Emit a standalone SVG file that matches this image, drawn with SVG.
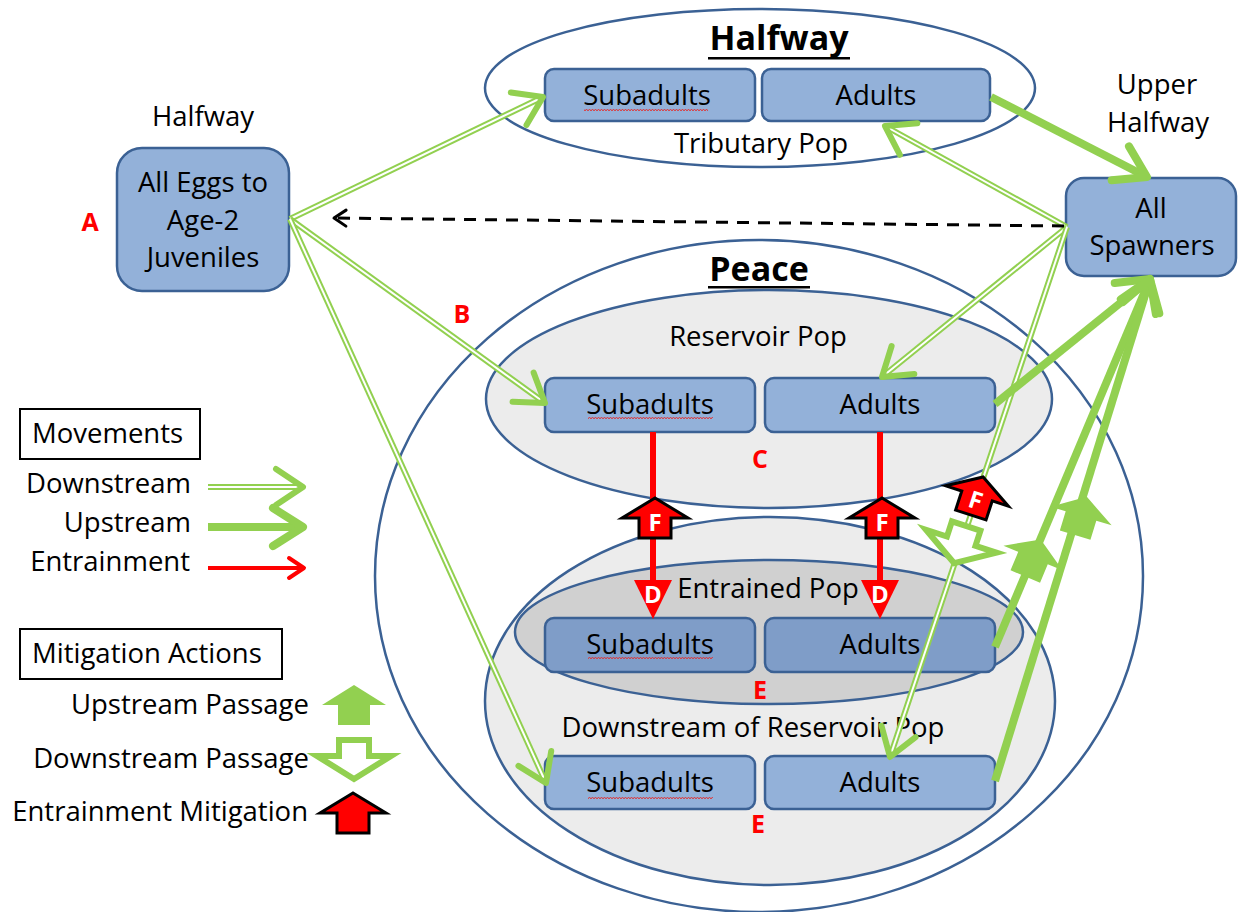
<svg xmlns="http://www.w3.org/2000/svg" width="1239" height="912" viewBox="0 0 1239 912">
  <style>
    text { font-family: "Open Sans", "Liberation Sans", sans-serif; fill: #000; }
    .t { font-size: 27.5px; text-anchor: middle; }
    .tl { font-size: 27.5px; }
    .tr { font-size: 27.5px; text-anchor: end; }
    .title { font-size: 34px; font-weight: bold; text-anchor: middle; }
    .lbl { font-size: 25px; font-weight: bold; fill: #ff0000; text-anchor: middle; }
    .wlbl { font-size: 24px; font-weight: bold; fill: #ffffff; text-anchor: middle; }
    .box { fill: #93b1d9; stroke: #3b6194; stroke-width: 2.5; }
    .boxd { fill: #7f9dc8; stroke: #3b6194; stroke-width: 2.5; }
    .reg { fill: none; stroke: #3b6194; stroke-width: 2.5; }
    .regl { fill: #ececec; stroke: #3b6194; stroke-width: 2.5; }
    .regd { fill: #d0d0d0; stroke: #3b6194; stroke-width: 2.5; }
    .dn-o { stroke: #92d050; stroke-width: 6; fill: none; }
    .dn-i { stroke: #ffffff; stroke-width: 2; fill: none; }
    .up { stroke: #92d050; stroke-width: 8; fill: none; }
    .ent { stroke: #ff0000; stroke-width: 6; fill: none; }
    .dash { stroke: #000; stroke-width: 3; stroke-dasharray: 12 9; fill: none; }
    .fmark { fill: #ff0000; stroke: #000; stroke-width: 3; stroke-linejoin: miter; }
    .upass { fill: #92d050; stroke: none; }
    .dpass { fill: #ffffff; stroke: #92d050; stroke-width: 6; stroke-linejoin: miter; }
    .key { fill: #ffffff; stroke: #000; stroke-width: 2; }
  </style>
  <defs>
    <marker id="dnHead" markerUnits="userSpaceOnUse" markerWidth="1" markerHeight="1" refX="0" refY="0" orient="auto" overflow="visible">
      <path d="M-27,-18 L0,0 L-27,18" fill="none" stroke="#92d050" stroke-width="6" stroke-linecap="round" stroke-linejoin="round"/>
    </marker>
    <marker id="upHead" markerUnits="userSpaceOnUse" markerWidth="1" markerHeight="1" refX="0" refY="0" orient="auto" overflow="visible">
      <path d="M-30,-19 L0,0 L-30,19" fill="none" stroke="#92d050" stroke-width="8" stroke-linecap="round" stroke-linejoin="round"/>
    </marker>
    <marker id="blkHead" markerUnits="userSpaceOnUse" markerWidth="1" markerHeight="1" refX="0" refY="0" orient="auto" overflow="visible">
      <path d="M-12,-8 L0,0 L-12,8" fill="none" stroke="#000" stroke-width="3" stroke-linecap="round" stroke-linejoin="round"/>
    </marker>
    <marker id="redHead" markerUnits="userSpaceOnUse" markerWidth="1" markerHeight="1" refX="0" refY="0" orient="auto" overflow="visible">
      <path d="M-15,-10 L0,0 L-15,10" fill="none" stroke="#ff0000" stroke-width="4" stroke-linecap="round" stroke-linejoin="round"/>
    </marker>
    <pattern id="squiggle" patternUnits="userSpaceOnUse" width="6" height="4">
      <path d="M0,3 L1.5,1 L3,3 L4.5,1 L6,3" fill="none" stroke="#e03030" stroke-width="0.9"/>
    </pattern>
    <path id="fShape" d="M0,-20 L33,0 L16,0 L16,20 L-16,20 L-16,0 L-33,0 Z"/>
    <path id="upShape" d="M0,-20 L32,0 L16,0 L16,20 L-16,20 L-16,0 L-32,0 Z"/>
    <path id="dnShape" d="M-15,-20 L15,-20 L15,-4 L37,-4 L0,19 L-37,-4 L-15,-4 Z"/>
  </defs>

  <rect width="1239" height="912" fill="#ffffff"/>

  <!-- Regions -->
  <g id="halfway-region">
    <ellipse class="reg" cx="760" cy="88" rx="275" ry="79"/>
    <text class="title" x="779" y="50">Halfway</text>
    <rect x="708" y="57" width="142" height="2.5" fill="#000"/>
    <text class="t" x="761" y="153">Tributary Pop</text>
  </g>

  <g id="peace-region">
    <ellipse class="reg" cx="759" cy="576" rx="384" ry="336"/>
    <text class="title" x="759" y="281">Peace</text>
    <rect x="708" y="286" width="102" height="2.5" fill="#000"/>
  </g>

  <g id="reservoir-region">
    <ellipse class="regl" cx="769" cy="399" rx="283" ry="109"/>
    <text class="t" x="758" y="346">Reservoir Pop</text>
  </g>

  <g id="downstream-region">
    <ellipse class="regl" cx="770" cy="701" rx="285" ry="184"/>
    <text class="t" x="753" y="737">Downstream of Reservoir Pop</text>
  </g>

  <g id="entrained-region">
    <ellipse class="regd" cx="769" cy="632" rx="254" ry="72"/>
    <text class="t" x="768" y="598">Entrained Pop</text>
  </g>

  <!-- Nodes -->
  <g id="eggs">
    <text class="t" x="203" y="126">Halfway</text>
    <rect class="box" x="117" y="148" width="172" height="143" rx="25"/>
    <text class="t" x="203" y="192">All Eggs to</text>
    <text class="t" x="203" y="230">Age-2</text>
    <text class="t" x="203" y="267">Juveniles</text>
  </g>

  <g id="spawners">
    <text class="t" x="1157" y="94">Upper</text>
    <text class="t" x="1158" y="132">Halfway</text>
    <rect class="box" x="1066" y="178" width="170" height="98" rx="18"/>
    <text class="t" x="1151" y="218">All</text>
    <text class="t" x="1152" y="255">Spawners</text>
  </g>

  <g id="trib-subadults">
    <rect class="box" x="545" y="69" width="210" height="52" rx="9"/>
    <text class="t" x="647" y="105">Subadults</text>
    <rect x="584" y="108" width="124" height="4" fill="url(#squiggle)"/>
  </g>
  <g id="trib-adults">
    <rect class="box" x="762" y="69" width="228" height="52" rx="9"/>
    <text class="t" x="876" y="105">Adults</text>
  </g>

  <g id="res-subadults">
    <rect class="box" x="545" y="378" width="210" height="54" rx="9"/>
    <text class="t" x="650" y="414">Subadults</text>
    <rect x="588" y="417" width="125" height="4" fill="url(#squiggle)"/>
  </g>
  <g id="res-adults">
    <rect class="box" x="765" y="378" width="230" height="54" rx="9"/>
    <text class="t" x="880" y="414">Adults</text>
  </g>

  <g id="ent-subadults">
    <rect class="boxd" x="545" y="618" width="210" height="54" rx="9"/>
    <text class="t" x="650" y="654">Subadults</text>
    <rect x="588" y="657" width="125" height="4" fill="url(#squiggle)"/>
  </g>
  <g id="ent-adults">
    <rect class="boxd" x="765" y="618" width="230" height="54" rx="9"/>
    <text class="t" x="880" y="654">Adults</text>
  </g>

  <g id="ds-subadults">
    <rect class="box" x="545" y="756" width="210" height="53" rx="9"/>
    <text class="t" x="650" y="792">Subadults</text>
    <rect x="588" y="795" width="125" height="4" fill="url(#squiggle)"/>
  </g>
  <g id="ds-adults">
    <rect class="box" x="765" y="756" width="230" height="53" rx="9"/>
    <text class="t" x="880" y="792">Adults</text>
  </g>

  <!-- Connectors -->
  <g id="connectors">
    <!-- downstream movements -->
    <line class="dn-o" x1="290" y1="219" x2="543" y2="97"/>
    <line class="dn-i" x1="290" y1="219" x2="543" y2="97" marker-end="url(#dnHead)"/>
    <line class="dn-o" x1="290" y1="219" x2="545" y2="403"/>
    <line class="dn-i" x1="290" y1="219" x2="545" y2="403" marker-end="url(#dnHead)"/>
    <line class="dn-o" x1="290" y1="219" x2="546" y2="783"/>
    <line class="dn-i" x1="290" y1="219" x2="546" y2="783" marker-end="url(#dnHead)"/>
    <line class="dn-o" x1="1067" y1="227" x2="885" y2="126"/>
    <line class="dn-i" x1="1067" y1="227" x2="885" y2="126" marker-end="url(#dnHead)"/>
    <line class="dn-o" x1="1067" y1="227" x2="882" y2="377"/>
    <line class="dn-i" x1="1067" y1="227" x2="882" y2="377" marker-end="url(#dnHead)"/>
    <line class="dn-o" x1="1067" y1="227" x2="890" y2="757"/>
    <line class="dn-i" x1="1067" y1="227" x2="890" y2="757" marker-end="url(#dnHead)"/>

    <!-- spawner return to eggs -->
    <line class="dash" x1="1064" y1="226" x2="334" y2="218" marker-end="url(#blkHead)"/>

    <!-- upstream movements -->
    <line class="up" x1="991" y1="97" x2="1147" y2="177" marker-end="url(#upHead)"/>
    <line class="up" x1="995" y1="404" x2="1150" y2="279" marker-end="url(#upHead)"/>
    <line class="up" x1="995" y1="647" x2="1150" y2="279" marker-end="url(#upHead)"/>
    <line class="up" x1="995" y1="781" x2="1150" y2="279" marker-end="url(#upHead)"/>

    <!-- entrainment -->
    <line class="ent" x1="653" y1="432" x2="653" y2="584"/>
    <polygon points="634,580 672,580 653,619" fill="#ff0000"/>
    <text class="wlbl" x="653" y="603">D</text>
    <line class="ent" x1="880" y1="432" x2="880" y2="584"/>
    <polygon points="861,580 899,580 880,619" fill="#ff0000"/>
    <text class="wlbl" x="880" y="603">D</text>
  </g>

  <!-- Mitigation actions -->
  <g id="mitigations">
    <g transform="translate(655,518)">
      <use href="#fShape" class="fmark"/>
      <text class="wlbl" x="0" y="13">F</text>
    </g>
    <g transform="translate(882,518)">
      <use href="#fShape" class="fmark"/>
      <text class="wlbl" x="0" y="13">F</text>
    </g>
    <g transform="translate(977,496) rotate(18)">
      <use href="#fShape" class="fmark"/>
      <text class="wlbl" x="0" y="13">F</text>
    </g>
    <g transform="translate(960,545) rotate(18)">
      <use href="#dnShape" class="dpass"/>
    </g>
    <g transform="translate(1033,558) rotate(22.7)">
      <use href="#upShape" class="upass"/>
    </g>
    <g transform="translate(1081,516) rotate(17)">
      <use href="#upShape" class="upass"/>
    </g>
  </g>

  <!-- Letter labels -->
  <g id="labels">
    <text class="lbl" x="90" y="231">A</text>
    <text class="lbl" x="462" y="323">B</text>
    <text class="lbl" x="760" y="468">C</text>
    <text class="lbl" x="760" y="699">E</text>
    <text class="lbl" x="758" y="833">E</text>
  </g>

  <!-- Key -->
  <g id="key-movements">
    <rect class="key" x="20" y="409" width="180" height="50"/>
    <text class="tl" x="32" y="443">Movements</text>
    <text class="tr" x="191" y="493">Downstream</text>
    <line class="dn-o" x1="208" y1="487" x2="303" y2="487"/>
    <line class="dn-i" x1="208" y1="487" x2="303" y2="487" marker-end="url(#dnHead)"/>
    <text class="tr" x="191" y="532">Upstream</text>
    <line class="up" x1="208" y1="527" x2="303" y2="527" marker-end="url(#upHead)"/>
    <text class="tr" x="190" y="571">Entrainment</text>
    <line stroke="#ff0000" stroke-width="4" x1="208" y1="568" x2="304" y2="568" marker-end="url(#redHead)"/>
  </g>

  <g id="key-mitigation">
    <rect class="key" x="20" y="629" width="262" height="50"/>
    <text class="tl" x="32" y="663">Mitigation Actions</text>
    <text class="tr" x="309" y="714">Upstream Passage</text>
    <use href="#upShape" class="upass" transform="translate(354,705)"/>
    <text class="tr" x="309" y="768">Downstream Passage</text>
    <use href="#dnShape" class="dpass" transform="translate(354,760)"/>
    <text class="tr" x="308" y="821">Entrainment Mitigation</text>
    <use href="#fShape" class="fmark" transform="translate(353,813)"/>
  </g>
</svg>
